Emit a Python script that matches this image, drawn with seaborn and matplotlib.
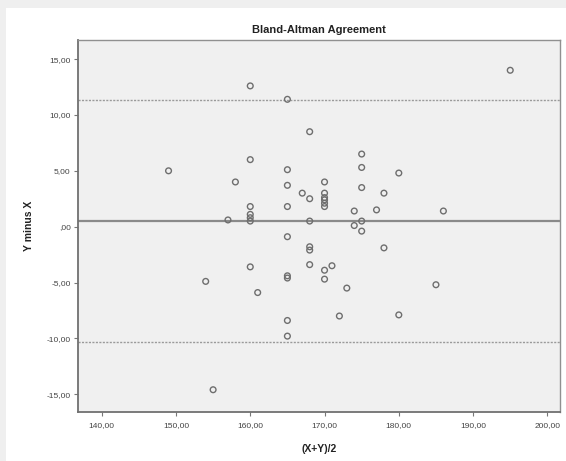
import matplotlib
matplotlib.use("Agg")
import matplotlib.pyplot as plt
import matplotlib.patches as mpatches
from matplotlib.ticker import FuncFormatter
import seaborn as sns
import pandas as pd

# ---- data ----
mean_xy = [149, 154, 155, 157, 158, 160, 160, 160, 160, 160, 160, 160, 161,
           165, 165, 165, 165, 165, 165, 165, 165, 165, 167, 168, 168, 168,
           168, 168, 168, 170, 170, 170, 170, 170, 170, 170, 170, 171, 172,
           173, 174, 174, 175, 175, 175, 175, 175, 177, 178, 178, 180, 180,
           185, 186, 195]
diff_yx = [5.0, -4.9, -14.6, 0.6, 4.0, 12.6, 6.0, 1.8, 1.1, 0.8, 0.5, -3.6, -5.9,
           11.4, 5.1, 3.7, 1.8, -0.9, -4.4, -4.6, -8.4, -9.8, 3.0, 8.5, 2.5, 0.5,
           -1.8, -2.1, -3.4, 4.0, 3.0, 2.6, 2.4, 2.1, 1.8, -3.9, -4.7, -3.5, -8.0,
           -5.5, 1.4, 0.1, 6.5, 5.3, 3.5, 0.5, -0.4, 1.5, 3.0, -1.9, 4.8, -7.9,
           -5.2, 1.4, 14.0]
mean_line = [0.5]
limit_lines = [11.35, -10.35]
x_ticks = [140, 150, 160, 170, 180, 190, 200]
y_ticks = [-15, -10, -5, 0, 5, 10, 15]

title = "Bland-Altman Agreement"
xlabel = "(X+Y)/2"
ylabel = "Y minus X"

df = pd.DataFrame({"x": mean_xy, "y": diff_yx})

sns.set_style("white")
plt.rcParams["font.family"] = ["Liberation Sans", "DejaVu Sans"]

fig = plt.figure(figsize=(5.66, 4.61), dpi=100)
fig.patch.set_facecolor("#efefef")
# white panel
fig.patches.append(mpatches.Rectangle((6 / 566, 0), 1, 1 - 8 / 461,
                                      transform=fig.transFigure,
                                      facecolor="white", edgecolor="none",
                                      zorder=-10))
ax = fig.add_axes([77.7 / 566, (461 - 412.3) / 461,
                   (560 - 77.7) / 566, (412.3 - 40) / 461])
ax.set_zorder(1)
ax.set_facecolor("#f0f0f0")

for v in mean_line:
    ax.axhline(v, color="#8a8a8a", lw=1.6, zorder=1)
for v in limit_lines:
    ax.axhline(v, color="#9a9a9a", lw=1.0, ls=(0, (1.5, 1.0)), zorder=1)

sns.scatterplot(data=df, x="x", y="y", ax=ax, marker="o", s=17,
                facecolor="none", edgecolor="#6e6e6e", linewidth=1.0,
                zorder=3)

ax.set_xlim(136.77, 201.7)
ax.set_ylim(-16.62, 16.71)
ax.set_xticks(x_ticks)
ax.set_yticks(y_ticks)


def f(v, p):
    s = ("%.2f" % v).replace(".", ",")
    if s in ("0,00", "-0,00"):
        return ",00"
    return s


ax.xaxis.set_major_formatter(FuncFormatter(f))
ax.yaxis.set_major_formatter(FuncFormatter(f))
ax.tick_params(axis="both", which="major", direction="out", length=3,
               width=0.8, color="#777777", labelsize=6, labelcolor="#444444",
               pad=2, bottom=True, left=True)
ax.tick_params(axis="x", pad=4)

for s in ax.spines.values():
    s.set_color("#909090")
    s.set_linewidth(1.0)
ax.spines["left"].set_color("#707070")
ax.spines["bottom"].set_color("#707070")
ax.spines["left"].set_linewidth(1.3)
ax.spines["bottom"].set_linewidth(1.3)

ax.set_title(title, fontsize=8, fontweight="bold", color="#222222", pad=5)
ax.set_xlabel(xlabel, fontsize=7.5, fontweight="bold", color="#222222", labelpad=11)
ax.set_ylabel(ylabel, fontsize=7.5, fontweight="bold", color="#222222", labelpad=9)

fig.savefig("out.png", dpi=100, facecolor=fig.get_facecolor())
